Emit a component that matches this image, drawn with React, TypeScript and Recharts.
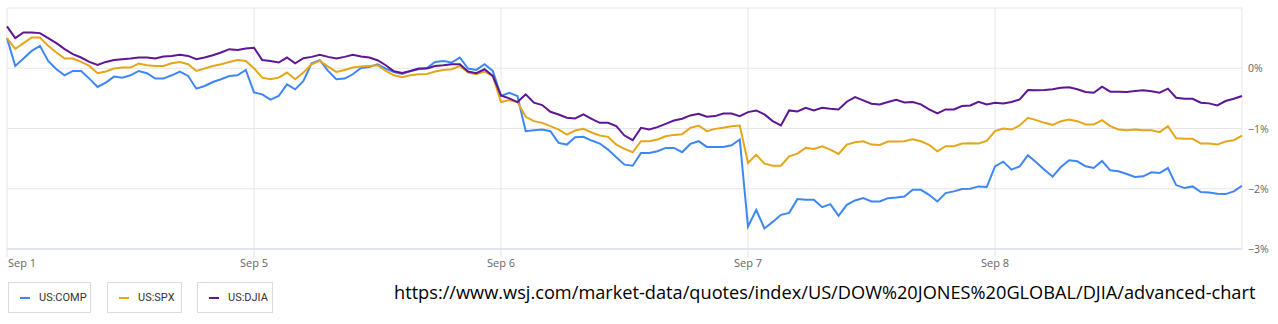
import { LineChart, Line, XAxis, YAxis, CartesianGrid } from 'recharts';

// % change vs. Sep 1 open, 30 readings per trading day (Sep 1, 5, 6, 7, 8) + last print
const SLOTS_PER_DAY = 30;
const DAY_LABELS = ['Sep 1', 'Sep 5', 'Sep 6', 'Sep 7', 'Sep 8'];
const DAY_TICKS = [0, 1, 2, 3, 4];
const PCT_TICKS = [-3, -2, -1, 0, 1];

const COMP = [
  0.5, 0.038, 0.162, 0.288, 0.372, 0.122, -0.017, -0.117, -0.045, -0.045,
  -0.172, -0.311, -0.239, -0.139, -0.156, -0.117, -0.045, -0.083, -0.172, -0.172,
  -0.117, -0.055, -0.128, -0.339, -0.294, -0.228, -0.183, -0.128, -0.117, -0.028,
  -0.4, -0.433, -0.52, -0.461, -0.267, -0.35, -0.211, 0.083, 0.133, -0.045,
  -0.183, -0.172, -0.1, 0.005, 0.022, 0.067, -0.005, -0.061, -0.095, -0.045,
  -0.017, 0.005, 0.105, 0.122, 0.095, 0.178, -0.005, -0.028, 0.067, -0.045,
  -0.461, -0.406, -0.461, -1.044, -1.028, -1.017, -1.044, -1.239, -1.267, -1.144,
  -1.139, -1.2, -1.25, -1.35, -1.478, -1.6, -1.617, -1.406, -1.406, -1.378,
  -1.322, -1.322, -1.394, -1.256, -1.211, -1.306, -1.306, -1.306, -1.278, -1.183,
  -2.628, -2.35, -2.66, -2.55, -2.433, -2.4, -2.172, -2.183, -2.183, -2.306,
  -2.256, -2.45, -2.267, -2.194, -2.156, -2.211, -2.211, -2.156, -2.144, -2.128,
  -2.017, -2.017, -2.1, -2.211, -2.072, -2.044, -2.006, -2.0, -1.961, -1.972,
  -1.628, -1.55, -1.683, -1.628, -1.444, -1.561, -1.683, -1.8, -1.639, -1.528,
  -1.544, -1.628, -1.656, -1.539, -1.694, -1.711, -1.756, -1.806, -1.794, -1.728,
  -1.739, -1.656, -1.939, -1.989, -1.961, -2.056, -2.061, -2.083, -2.089, -2.044,
  -1.95,
];

const SPX = [
  0.5, 0.32, 0.417, 0.51, 0.51, 0.372, 0.262, 0.162, 0.162, 0.105,
  0.038, -0.083, -0.055, -0.005, 0.012, 0.012, 0.078, 0.05, 0.038, 0.038,
  0.083, 0.105, 0.067, -0.045, -0.005, 0.038, 0.067, 0.105, 0.138, 0.12,
  0.0, -0.156, -0.183, -0.156, -0.072, -0.183, -0.072, 0.067, 0.122, 0.028,
  -0.061, -0.028, 0.012, 0.028, 0.038, 0.05, -0.045, -0.117, -0.15, -0.117,
  -0.1, -0.095, -0.055, -0.028, -0.017, 0.038, -0.072, -0.1, -0.055, -0.128,
  -0.561, -0.528, -0.561, -0.806, -0.878, -0.906, -0.961, -1.017, -1.1, -1.033,
  -1.006, -1.067, -1.117, -1.139, -1.267, -1.339, -1.394, -1.211, -1.211, -1.183,
  -1.128, -1.106, -1.094, -0.989, -0.95, -1.044, -1.006, -0.989, -0.961, -0.95,
  -1.572, -1.433, -1.583, -1.617, -1.617, -1.461, -1.417, -1.322, -1.339, -1.294,
  -1.35, -1.422, -1.267, -1.228, -1.211, -1.267, -1.272, -1.217, -1.217, -1.211,
  -1.178, -1.211, -1.272, -1.378, -1.294, -1.294, -1.25, -1.244, -1.25, -1.206,
  -1.044, -1.0, -1.017, -0.95, -0.822, -0.861, -0.906, -0.939, -0.878, -0.85,
  -0.878, -0.933, -0.933, -0.861, -0.961, -1.017, -1.028, -1.017, -1.028, -1.028,
  -1.061, -0.961, -1.161, -1.172, -1.172, -1.25, -1.25, -1.267, -1.217, -1.194,
  -1.117,
];

const DJIA = [
  0.695, 0.5, 0.595, 0.595, 0.583, 0.5, 0.417, 0.317, 0.233, 0.178,
  0.105, 0.055, 0.105, 0.138, 0.15, 0.162, 0.178, 0.178, 0.162, 0.195,
  0.205, 0.222, 0.205, 0.15, 0.178, 0.217, 0.262, 0.317, 0.305, 0.328,
  0.34, 0.138, 0.122, 0.095, 0.178, 0.083, 0.167, 0.189, 0.222, 0.189,
  0.162, 0.189, 0.222, 0.195, 0.178, 0.133, 0.05, -0.05, -0.078, -0.045,
  -0.005, -0.005, 0.038, 0.05, 0.067, 0.067, -0.055, -0.083, -0.017, -0.128,
  -0.45, -0.5, -0.561, -0.433, -0.572, -0.611, -0.722, -0.767, -0.822, -0.833,
  -0.767, -0.839, -0.906, -0.906, -0.961, -1.117, -1.194, -0.989, -1.017, -0.978,
  -0.922, -0.867, -0.839, -0.783, -0.756, -0.806, -0.794, -0.75, -0.75, -0.794,
  -0.728, -0.7, -0.767, -0.878, -0.95, -0.7, -0.717, -0.656, -0.7, -0.656,
  -0.672, -0.683, -0.556, -0.478, -0.533, -0.589, -0.6, -0.561, -0.522, -0.567,
  -0.561, -0.6, -0.683, -0.75, -0.683, -0.683, -0.628, -0.617, -0.556, -0.6,
  -0.572, -0.583, -0.561, -0.517, -0.361, -0.367, -0.361, -0.35, -0.322, -0.317,
  -0.35, -0.394, -0.406, -0.306, -0.389, -0.389, -0.394, -0.378, -0.367, -0.383,
  -0.406, -0.339, -0.489, -0.506, -0.506, -0.572, -0.583, -0.617, -0.544, -0.506,
  -0.461,
];

const SERIES = [
  { key: 'comp', name: 'US:COMP', color: '#3d87f5' },
  { key: 'spx', name: 'US:SPX', color: '#e5a61a' },
  { key: 'djia', name: 'US:DJIA', color: '#5e1694' },
];

const URL_TEXT =
  'https://www.wsj.com/market-data/quotes/index/US/DOW%20JONES%20GLOBAL/DJIA/advanced-chart';

const chartData = COMP.map((v, i) => ({
  t: i / SLOTS_PER_DAY,
  comp: v,
  spx: SPX[i],
  djia: DJIA[i],
}));

const labelFont = '"Open Sans", sans-serif';

const DayTick = (props: any) => {
  const { x, y, payload, index } = props;
  return (
    <text
      x={index === 0 ? x + 1 : x}
      y={y}
      dy={8}
      textAnchor={index === 0 ? 'start' : 'middle'}
      fill="#666"
      fontSize={11}
      fontFamily={labelFont}
    >
      {DAY_LABELS[payload.value]}
    </text>
  );
};

const PctTick = (props: any) => {
  const { x, y, payload } = props;
  if (payload.value === 1) return <g />;
  const v = payload.value;
  const label = v === 0 ? '0%' : `\u2212${Math.abs(v)}%`;
  return (
    <text x={x} y={y} dy={4} textAnchor="start" fill="#666" fontSize={10.5} fontFamily={labelFont}>
      {label}
    </text>
  );
};

export default function App() {
  return (
    <div
      style={{
        position: 'absolute',
        left: 0,
        top: 0,
        width: 1278,
        height: 324,
        background: '#fff',
        overflow: 'hidden',
      }}
    >
      <LineChart
        width={1278}
        height={280}
        data={chartData}
        margin={{ top: 8, right: 0, left: 7, bottom: 0 }}
      >
        <CartesianGrid stroke="#e6e6e6" />
        <XAxis
          dataKey="t"
          type="number"
          domain={[0, 5]}
          ticks={DAY_TICKS}
          height={31}
          stroke="#ccd6eb"
          tickLine={{ stroke: '#e6e6e6' }}
          tickSize={8}
          tickMargin={2}
          tick={<DayTick />}
          interval={0}
        />
        <YAxis
          orientation="right"
          width={36}
          domain={[-3, 1]}
          ticks={PCT_TICKS}
          axisLine={false}
          tickLine={false}
          tickSize={4}
          tickMargin={2}
          tick={<PctTick />}
          interval={0}
        />
        {SERIES.map((s) => (
          <Line
            key={s.key}
            type="linear"
            dataKey={s.key}
            stroke={s.color}
            strokeWidth={2}
            dot={false}
            activeDot={false}
            isAnimationActive={false}
          />
        ))}
      </LineChart>

      {SERIES.map((s, i) => (
        <div
          key={s.key}
          style={{
            position: 'absolute',
            left: [8, 107, 197][i],
            top: 282,
            width: [83, 75, 76][i],
            height: 31,
            boxSizing: 'border-box',
            border: '1px solid #dcdcdc',
            display: 'flex',
            alignItems: 'center',
            fontFamily: 'Roboto, sans-serif',
            fontSize: 11,
            color: '#333',
          }}
        >
          <span
            style={{
              display: 'inline-block',
              width: 10,
              height: 2,
              background: s.color,
              marginLeft: 11,
              marginRight: 9,
            }}
          />
          {s.name}
        </div>
      ))}

      <div
        style={{
          position: 'absolute',
          left: 394,
          top: 280,
          fontFamily: labelFont,
          fontSize: 18.2,
          color: '#000',
          whiteSpace: 'nowrap',
        }}
      >
        {URL_TEXT}
      </div>
    </div>
  );
}
